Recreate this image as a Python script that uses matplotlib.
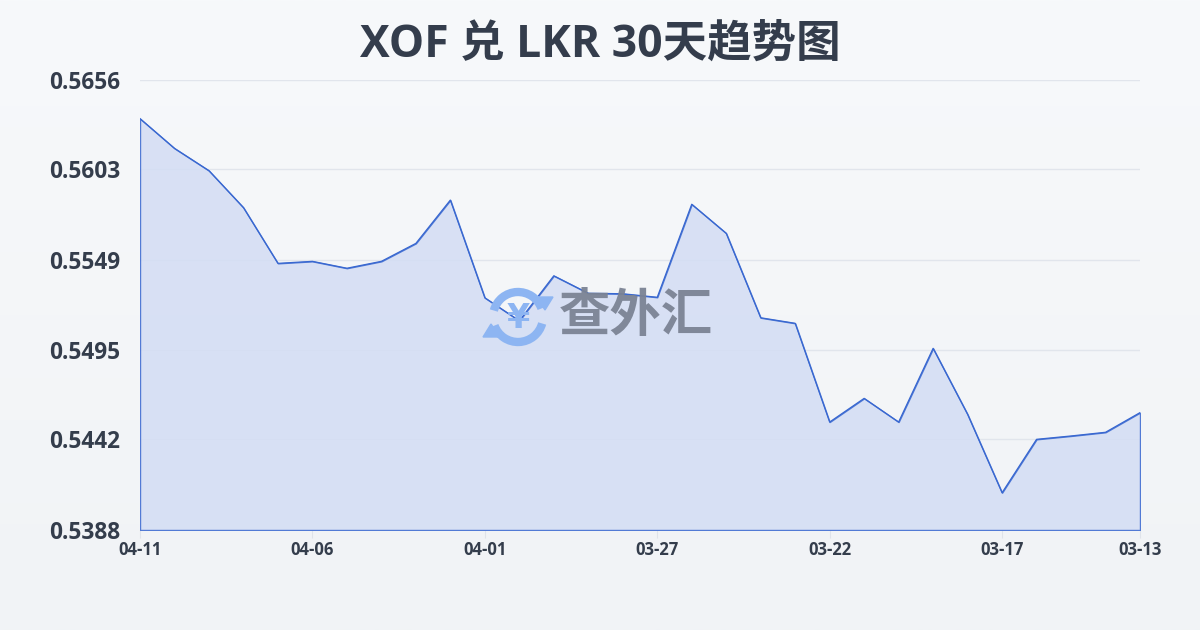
import numpy as np
import matplotlib
matplotlib.use('Agg')
import matplotlib.pyplot as plt
from matplotlib.patches import Arc, Polygon

plt.rcParams['font.family'] = ['Open Sans', 'Noto Sans CJK SC', 'DejaVu Sans']

# --- data (newest first, as in the reference) ---
dates = ['04-11', '04-10', '04-09', '04-08', '04-07', '04-06', '04-05', '04-04',
         '04-03', '04-02', '04-01', '03-31', '03-30', '03-29', '03-28', '03-27',
         '03-26', '03-25', '03-24', '03-23', '03-22', '03-21', '03-20', '03-19',
         '03-18', '03-17', '03-16', '03-15', '03-14', '03-13']
rates = [0.56330, 0.56153, 0.56020, 0.55800, 0.55468, 0.55480, 0.55439, 0.55480,
         0.55587, 0.55845, 0.55263, 0.55126, 0.55394, 0.55290, 0.55287, 0.55266,
         0.55820, 0.55647, 0.55144, 0.55111, 0.54523, 0.54664, 0.54523, 0.54962,
         0.54569, 0.54102, 0.54420, 0.54440, 0.54462, 0.54579]
y_ticks = [0.5388, 0.5442, 0.5495, 0.5549, 0.5603, 0.5656]
y_labels = ['0.5388', '0.5442', '0.5495', '0.5549', '0.5603', '0.5656']
x_tick_idx = [0, 5, 10, 15, 20, 25, 29]

line_col = '#3867d0'
fill_col = '#d3ddf4'
text_col = '#343d4c'
logo_col = '#8db5f2'

fig = plt.figure(figsize=(12, 6.3), dpi=100)

# soft background gradient
bg = fig.add_axes([0, 0, 1, 1], zorder=-10)
grad = np.linspace(0, 1, 256).reshape(-1, 1)
bg.imshow(grad, aspect='auto', extent=[0, 1, 0, 1],
          cmap=matplotlib.colors.LinearSegmentedColormap.from_list('bg', ['#f7f9fb', '#f1f3f6']))
bg.axis('off')

ax = fig.add_axes([140/1200, 1-530/630, 1000/1200, 450/630])
ax.patch.set_alpha(0)
x = np.arange(len(rates))
ax.fill_between(x, rates, y_ticks[0], facecolor=fill_col, alpha=0.85,
                edgecolor=line_col, linewidth=1.0, zorder=2)
ax.plot(x, rates, color=line_col, linewidth=0.9, zorder=3)

ax.set_xlim(0, len(rates) - 1)
ax.set_ylim(y_ticks[0], y_ticks[-1])
ax.set_yticks(y_ticks)
ax.set_yticklabels(y_labels)
ax.set_xticks(x_tick_idx)
ax.set_xticklabels([dates[i] for i in x_tick_idx])
ax.grid(axis='y', color='#e1e5ec', linewidth=1, zorder=0)
for s in ax.spines.values():
    s.set_visible(False)
ax.tick_params(axis='y', length=0, pad=14, labelsize=16.3, labelcolor=text_col)
ax.tick_params(axis='x', length=6, color='#dfe3ea', pad=2, labelsize=12, labelcolor=text_col)
for lbl in ax.get_yticklabels() + ax.get_xticklabels():
    lbl.set_fontweight('bold')

fig.text(0.5, 1-45/630, 'XOF 兑 LKR 30天趋势图', ha='center', va='center',
         fontsize=32, fontweight='bold', color=text_col)

# watermark
wm = fig.add_axes([0, 0, 1, 1], zorder=5)
wm.set_xlim(0, 1200); wm.set_ylim(630, 0); wm.axis('off')
wm.add_patch(Arc((518, 317), 50, 50, theta1=195, theta2=340, color=logo_col, lw=6))
wm.add_patch(Arc((518, 317), 50, 50, theta1=15, theta2=160, color=logo_col, lw=6))
wm.add_patch(Polygon([(536, 297), (553, 297), (545, 310)], closed=True, color=logo_col))
wm.add_patch(Polygon([(483, 337), (500, 337), (491, 324)], closed=True, color=logo_col))
wm.text(518, 318, '¥', ha='center', va='center', fontsize=24, fontweight='bold',
        color=logo_col, family=['DejaVu Sans'])
wm.text(636, 316, '查外汇', ha='center', va='center', fontsize=37, fontweight='bold',
        color='#7b8394', alpha=0.95, family=['Noto Sans CJK SC'])

fig.savefig('out.png', dpi=100)
